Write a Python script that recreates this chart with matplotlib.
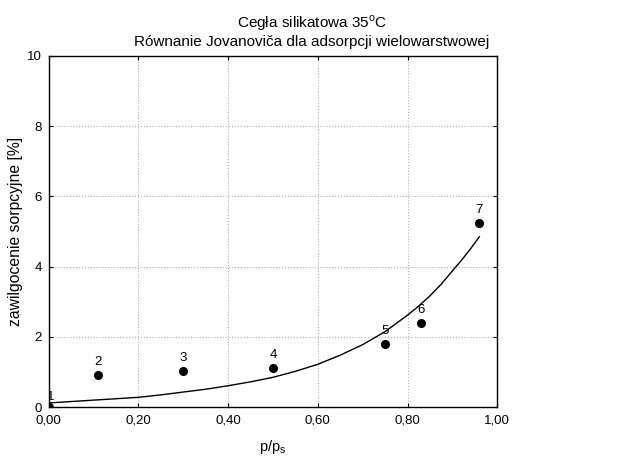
import matplotlib
matplotlib.use("Agg")
import matplotlib.pyplot as plt

plt.rcParams['font.family'] = ['Liberation Sans', 'DejaVu Sans']

# punkty pomiarowe
nr_punktu = ['1', '2', '3', '4', '5', '6', '7']
p_ps = [0.0, 0.11, 0.30, 0.50, 0.75, 0.83, 0.96]
zawilg = [0.0, 0.91, 1.03, 1.12, 1.81, 2.40, 5.23]

# krzywa Jovanovica
krzywa_x = [0.0, 0.05, 0.10, 0.15, 0.20, 0.25, 0.30, 0.35, 0.40, 0.45, 0.50, 0.55, 0.60, 0.65,
            0.70, 0.75, 0.80, 0.825, 0.85, 0.875, 0.90, 0.92, 0.94, 0.96]
krzywa_y = [0.12, 0.16, 0.20, 0.24, 0.28, 0.35, 0.43, 0.51, 0.61, 0.72, 0.85, 1.02, 1.22, 1.48,
            1.78, 2.15, 2.62, 2.88, 3.17, 3.50, 3.88, 4.18, 4.50, 4.85]

xticks = [0.0, 0.2, 0.4, 0.6, 0.8, 1.0]
xlabels = ['0,00', '0,20', '0,40', '0,60', '0,80', '1,00']
yticks = [0, 2, 4, 6, 8, 10]

fig = plt.figure(figsize=(6.4, 4.58), dpi=100)
ax = fig.add_axes([0.076, 0.111, 0.701, 0.767])

ax.plot(krzywa_x, krzywa_y, color='black', linewidth=1.0)
ax.plot(p_ps, zawilg, 'o', color='black', markersize=5.5, clip_on=True)
for n, x, y in zip(nr_punktu, p_ps, zawilg):
    if x == 0.0:
        # etykieta przy osi - czesciowo schowana za osia jak w oryginale
        ax.text(x + 0.004, y + 0.12, n, ha='center', va='bottom', fontsize=9.5, clip_on=True)
    else:
        ax.annotate(n, (x, y), xytext=(0, 5), textcoords='offset points',
                    ha='center', va='bottom', fontsize=9.5)

ax.set_xlim(0, 1)
ax.set_ylim(0, 10)
ax.set_xticks(xticks)
ax.set_xticklabels(xlabels)
ax.set_yticks(yticks)
ax.tick_params(direction='in', length=3, labelsize=9.5, top=True, right=True,
               labeltop=False, labelright=False, pad=5)
ax.grid(True, linestyle=':', color='#b0b0b0', linewidth=0.8)
for s in ax.spines.values():
    s.set_linewidth(1.0)

ax.set_xlabel('p/p$_\\mathregular{s}$', fontsize=10.5)
ax.set_ylabel('zawilgocenie sorpcyjne [%]', fontsize=11.3)
ax.xaxis.set_label_coords(0.5, -0.087)
ax.yaxis.set_label_coords(-0.058, 0.5)
fig.text(0.4875, 1 - 31 / 458,
         'Cegła silikatowa 35$^\\mathregular{o}$C\nRównanie Jovanoviča dla adsorpcji wielowarstwowej',
         fontsize=11, ha='center', va='center', multialignment='center')

fig.savefig('out.png', dpi=100)
